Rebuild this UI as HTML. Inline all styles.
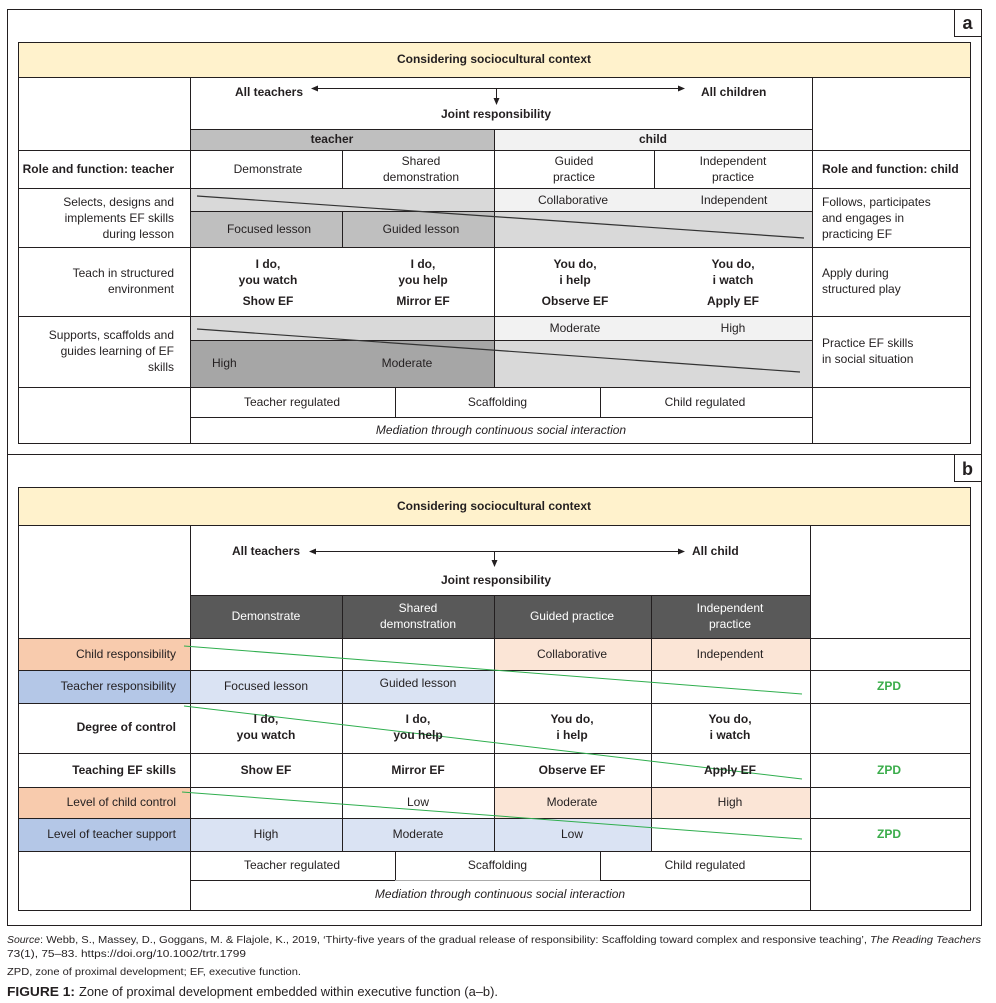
<!DOCTYPE html>
<html><head><meta charset="utf-8"><style>
html,body{margin:0;padding:0;background:#fff;}
svg{display:block;}
text{font-family:"Liberation Sans",Arial,sans-serif;font-size:12px;fill:#231f20;}
.b{font-weight:bold;}
.m{text-anchor:middle;}
.e{text-anchor:end;}
.i{font-style:italic;}
.w{fill:#fff;}
.g{fill:#3aac4a;font-weight:bold;}
</style></head><body>
<svg width="996" height="1003" viewBox="0 0 996 1003" xmlns="http://www.w3.org/2000/svg">
<rect x="0" y="0" width="996" height="1003" fill="#fff"/>

<!-- ================= PANEL A ================= -->
<g>
<rect x="18" y="42" width="952" height="35" fill="#fff2cc"/>
<rect x="190" y="129" width="304" height="21" fill="#bfbfbf"/>
<rect x="494" y="129" width="318" height="21" fill="#f2f2f2"/>
<rect x="190" y="188" width="304" height="23" fill="#d9d9d9"/>
<rect x="494" y="188" width="318" height="23" fill="#f2f2f2"/>
<rect x="190" y="211" width="304" height="36" fill="#bfbfbf"/>
<rect x="494" y="211" width="318" height="36" fill="#d9d9d9"/>
<rect x="190" y="316" width="304" height="24" fill="#d9d9d9"/>
<rect x="494" y="316" width="318" height="24" fill="#f2f2f2"/>
<rect x="190" y="340" width="304" height="47" fill="#a6a6a6"/>
<rect x="494" y="340" width="318" height="47" fill="#d9d9d9"/>
</g>
<g stroke="#231f20" stroke-width="1" fill="none">
<rect x="7.5" y="9.5" width="974" height="445"/>
<polyline points="954.5,9.5 954.5,36.5 981.5,36.5"/>
<rect x="18.5" y="42.5" width="952" height="401"/>
<line x1="18" y1="77.5" x2="970" y2="77.5"/>
<line x1="190" y1="129.5" x2="812" y2="129.5"/>
<line x1="18" y1="150.5" x2="970" y2="150.5"/>
<line x1="18" y1="188.5" x2="970" y2="188.5"/>
<line x1="190" y1="211.5" x2="812" y2="211.5"/>
<line x1="18" y1="247.5" x2="970" y2="247.5"/>
<line x1="18" y1="316.5" x2="970" y2="316.5"/>
<line x1="190" y1="340.5" x2="812" y2="340.5"/>
<line x1="18" y1="387.5" x2="970" y2="387.5"/>
<line x1="190" y1="417.5" x2="812" y2="417.5"/>
<line x1="190.5" y1="77" x2="190.5" y2="443"/>
<line x1="812.5" y1="77" x2="812.5" y2="443"/>
<line x1="494.5" y1="129" x2="494.5" y2="387"/>
<line x1="342.5" y1="150" x2="342.5" y2="188"/>
<line x1="342.5" y1="211" x2="342.5" y2="247"/>
<line x1="654.5" y1="150" x2="654.5" y2="188"/>
<line x1="395.5" y1="387" x2="395.5" y2="417"/>
<line x1="600.5" y1="387" x2="600.5" y2="417"/>
<line x1="197" y1="196" x2="804" y2="238" stroke="#333" stroke-width="1.2"/>
<line x1="197" y1="329" x2="800" y2="372" stroke="#333" stroke-width="1.2"/>
<line x1="317" y1="88.5" x2="679" y2="88.5"/>
<line x1="496.5" y1="88.5" x2="496.5" y2="99"/>
</g>
<g fill="#231f20">
<polygon points="311,88.5 318,85.5 318,91.5"/>
<polygon points="685,88.5 678,85.5 678,91.5"/>
<polygon points="496.5,105 493.5,98 499.5,98"/>
</g>
<text x="967.5" y="29" class="b m" style="font-size:18px">a</text>

<text x="494" y="63" class="b m">Considering sociocultural context</text>
<text x="303" y="96" class="b e">All teachers</text>
<text x="701" y="96" class="b">All children</text>
<text x="496" y="118" class="b m">Joint responsibility</text>
<text x="332" y="143" class="b m">teacher</text>
<text x="653" y="143" class="b m">child</text>

<text x="174" y="173" class="b e">Role and function: teacher</text>
<text x="268" y="173" class="m">Demonstrate</text>
<text x="421" y="165" class="m">Shared</text>
<text x="421" y="181" class="m">demonstration</text>
<text x="574" y="165" class="m">Guided</text>
<text x="574" y="181" class="m">practice</text>
<text x="733" y="165" class="m">Independent</text>
<text x="733" y="181" class="m">practice</text>
<text x="822" y="173" class="b">Role and function: child</text>

<text x="174" y="206" class="e">Selects, designs and</text>
<text x="174" y="222" class="e">implements EF skills</text>
<text x="174" y="238" class="e">during lesson</text>
<text x="573" y="204" class="m">Collaborative</text>
<text x="734" y="204" class="m">Independent</text>
<text x="269" y="233" class="m">Focused lesson</text>
<text x="421" y="233" class="m">Guided lesson</text>
<text x="822" y="206" >Follows, participates</text>
<text x="822" y="222" >and engages in</text>
<text x="822" y="238" >practicing EF</text>

<text x="174" y="277" class="e">Teach in structured</text>
<text x="174" y="293" class="e">environment</text>
<text x="268" y="268" class="b m">I do,</text>
<text x="268" y="284" class="b m">you watch</text>
<text x="268" y="305" class="b m">Show EF</text>
<text x="423" y="268" class="b m">I do,</text>
<text x="423" y="284" class="b m">you help</text>
<text x="423" y="305" class="b m">Mirror EF</text>
<text x="575" y="268" class="b m">You do,</text>
<text x="575" y="284" class="b m">i help</text>
<text x="575" y="305" class="b m">Observe EF</text>
<text x="733" y="268" class="b m">You do,</text>
<text x="733" y="284" class="b m">i watch</text>
<text x="733" y="305" class="b m">Apply EF</text>
<text x="822" y="277">Apply during</text>
<text x="822" y="293">structured play</text>

<text x="174" y="339" class="e">Supports, scaffolds and</text>
<text x="174" y="355" class="e">guides learning of EF</text>
<text x="174" y="371" class="e">skills</text>
<text x="575" y="332" class="m">Moderate</text>
<text x="733" y="332" class="m">High</text>
<text x="212" y="367">High</text>
<text x="407" y="367" class="m">Moderate</text>
<text x="822" y="347">Practice EF skills</text>
<text x="822" y="363">in social situation</text>

<text x="292" y="406" class="m">Teacher regulated</text>
<text x="497.5" y="406" class="m">Scaffolding</text>
<text x="705" y="406" class="m">Child regulated</text>
<text x="501" y="434" class="m i">Mediation through continuous social interaction</text>

<!-- ================= PANEL B ================= -->
<g>
<rect x="18" y="487" width="952" height="38" fill="#fff2cc"/>
<rect x="190" y="595" width="620" height="43" fill="#595959"/>
<rect x="18" y="638" width="172" height="32" fill="#f8cbad"/>
<rect x="18" y="787" width="172" height="31" fill="#f8cbad"/>
<rect x="18" y="670" width="172" height="33" fill="#b4c7e7"/>
<rect x="18" y="818" width="172" height="33" fill="#b4c7e7"/>
<rect x="494" y="638" width="316" height="32" fill="#fbe5d6"/>
<rect x="494" y="787" width="316" height="31" fill="#fbe5d6"/>
<rect x="190" y="670" width="304" height="33" fill="#dae3f3"/>
<rect x="190" y="818" width="461" height="33" fill="#dae3f3"/>
</g>
<g stroke="#231f20" stroke-width="1" fill="none">
<rect x="7.5" y="454.5" width="974" height="471"/>
<polyline points="954.5,454.5 954.5,481.5 981.5,481.5"/>
<rect x="18.5" y="487.5" width="952" height="423"/>
<line x1="18" y1="525.5" x2="970" y2="525.5"/>
<line x1="190" y1="595.5" x2="810" y2="595.5"/>
<line x1="18" y1="638.5" x2="970" y2="638.5"/>
<line x1="18" y1="670.5" x2="970" y2="670.5"/>
<line x1="18" y1="703.5" x2="970" y2="703.5"/>
<line x1="18" y1="753.5" x2="970" y2="753.5"/>
<line x1="18" y1="787.5" x2="970" y2="787.5"/>
<line x1="18" y1="818.5" x2="970" y2="818.5"/>
<line x1="18" y1="851.5" x2="970" y2="851.5"/>
<line x1="190" y1="880.5" x2="395" y2="880.5"/>
<line x1="395" y1="880.5" x2="600" y2="880.5" stroke="#aaa"/>
<line x1="600" y1="880.5" x2="810" y2="880.5"/>
<line x1="190.5" y1="525" x2="190.5" y2="910"/>
<line x1="810.5" y1="525" x2="810.5" y2="910"/>
<line x1="342.5" y1="595" x2="342.5" y2="851"/>
<line x1="494.5" y1="595" x2="494.5" y2="851"/>
<line x1="651.5" y1="595" x2="651.5" y2="851"/>
<line x1="395.5" y1="851" x2="395.5" y2="880"/>
<line x1="600.5" y1="851" x2="600.5" y2="880"/>
<line x1="315" y1="551.5" x2="679" y2="551.5"/>
<line x1="494.5" y1="551.5" x2="494.5" y2="561"/>
</g>
<g fill="#231f20">
<polygon points="309,551.5 316,548.5 316,554.5"/>
<polygon points="685,551.5 678,548.5 678,554.5"/>
<polygon points="494.5,567 491.5,560 497.5,560"/>
</g>
<g stroke="#2fae4e" stroke-width="1">
<line x1="184" y1="646" x2="802" y2="694"/>
<line x1="184" y1="706" x2="802" y2="779"/>
<line x1="182" y1="792" x2="802" y2="839"/>
</g>
<text x="967.5" y="475" class="b m" style="font-size:18px">b</text>

<text x="494" y="510" class="b m">Considering sociocultural context</text>
<text x="300" y="555" class="b e">All teachers</text>
<text x="692" y="555" class="b">All child</text>
<text x="496" y="584" class="b m">Joint responsibility</text>

<text x="266" y="620" class="m w">Demonstrate</text>
<text x="418" y="612" class="m w">Shared</text>
<text x="418" y="628" class="m w">demonstration</text>
<text x="572" y="620" class="m w">Guided practice</text>
<text x="730" y="612" class="m w">Independent</text>
<text x="730" y="628" class="m w">practice</text>

<text x="176" y="658" class="e">Child responsibility</text>
<text x="572" y="658" class="m">Collaborative</text>
<text x="730" y="658" class="m">Independent</text>

<text x="176" y="690" class="e">Teacher responsibility</text>
<text x="266" y="690" class="m">Focused lesson</text>
<text x="418" y="687" class="m">Guided lesson</text>
<text x="889" y="690" class="m g">ZPD</text>

<text x="176" y="731" class="b e">Degree of control</text>
<text x="266" y="723" class="b m">I do,</text>
<text x="266" y="739" class="b m">you watch</text>
<text x="418" y="723" class="b m">I do,</text>
<text x="418" y="739" class="b m">you help</text>
<text x="572" y="723" class="b m">You do,</text>
<text x="572" y="739" class="b m">i help</text>
<text x="730" y="723" class="b m">You do,</text>
<text x="730" y="739" class="b m">i watch</text>

<text x="176" y="774" class="b e">Teaching EF skills</text>
<text x="266" y="774" class="b m">Show EF</text>
<text x="418" y="774" class="b m">Mirror EF</text>
<text x="572" y="774" class="b m">Observe EF</text>
<text x="730" y="774" class="b m">Apply EF</text>
<text x="889" y="774" class="m g">ZPD</text>

<text x="176" y="806" class="e">Level of child control</text>
<text x="418" y="806" class="m">Low</text>
<text x="572" y="806" class="m">Moderate</text>
<text x="730" y="806" class="m">High</text>

<text x="176" y="838" class="e">Level of teacher support</text>
<text x="266" y="838" class="m">High</text>
<text x="418" y="838" class="m">Moderate</text>
<text x="572" y="838" class="m">Low</text>
<text x="889" y="838" class="m g">ZPD</text>

<text x="292" y="869" class="m">Teacher regulated</text>
<text x="497.5" y="869" class="m">Scaffolding</text>
<text x="705" y="869" class="m">Child regulated</text>
<text x="500" y="898" class="m i">Mediation through continuous social interaction</text>

<!-- ================= CAPTION ================= -->
<text x="7" y="943" class="i" style="font-size:10.5px" textLength="33" lengthAdjust="spacingAndGlyphs">Source</text>
<text x="40" y="943" style="font-size:10.5px" textLength="827" lengthAdjust="spacingAndGlyphs">: Webb, S., Massey, D., Goggans, M. &amp; Flajole, K., 2019, ‘Thirty-five years of the gradual release of responsibility: Scaffolding toward complex and responsive teaching’,</text>
<text x="870" y="943" class="i" style="font-size:10.5px" textLength="111" lengthAdjust="spacingAndGlyphs">The Reading Teachers</text>
<text x="7" y="957" style="font-size:10.5px" textLength="239" lengthAdjust="spacingAndGlyphs">73(1), 75–83. https://doi.org/10.1002/trtr.1799</text>
<text x="7" y="975" style="font-size:10.5px" textLength="294" lengthAdjust="spacingAndGlyphs">ZPD, zone of proximal development; EF, executive function.</text>
<text x="7" y="996" class="b" style="font-size:13px" textLength="68" lengthAdjust="spacingAndGlyphs">FIGURE 1:</text>
<text x="79" y="996" style="font-size:13px" textLength="419" lengthAdjust="spacingAndGlyphs">Zone of proximal development embedded within executive function (a–b).</text>
</svg>
</body></html>
